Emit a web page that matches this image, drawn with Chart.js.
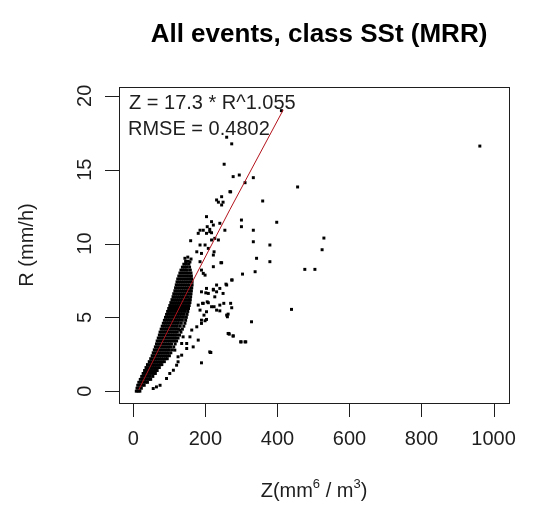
<!DOCTYPE html>
<html>
<head>
<meta charset="utf-8">
<script src="https://cdn.jsdelivr.net/npm/chart.js@4.4.0/dist/chart.umd.min.js"></script>
<style>
html, body { margin: 0; padding: 0; background: #fff; }
#wrap { position: relative; width: 545px; height: 515px; }
</style>
</head>
<body>
<div id="wrap"><canvas id="chart"></canvas></div>
<script>
// axis setup
const xTicks = [0, 200, 400, 600, 800, 1000];
const yTicks = [0, 5, 10, 15, 20];
const xRange = [-40, 1043];
const yRange = [-0.8, 20.6];

// dense core of the cloud, one row of Z readings per R level
const coreR = [0.0, 0.2, 0.4, 0.6, 0.8, 1.0, 1.2, 1.4, 1.6, 1.8, 2.0, 2.2, 2.4, 2.6, 2.8, 3.0,
	3.2, 3.4, 3.6, 3.8, 4.0, 4.2, 4.4, 4.6, 4.8, 5.0, 5.2, 5.4, 5.6, 5.8, 6.0, 6.2, 6.4, 6.6,
	6.8, 7.0, 7.2, 7.4, 7.6, 7.8, 8.0, 8.2, 8.4, 8.6, 8.8];
const coreZ = [
	[8, 13, 18],
	[10, 16, 22],
	[12, 18, 24, 30],
	[15, 21, 27, 33, 39],
	[19, 25, 31, 37, 43, 48],
	[23, 29, 35, 41, 47, 54],
	[27, 33, 39, 45, 51, 57, 61],
	[31, 37, 43, 49, 55, 61, 66],
	[35, 41, 47, 53, 59, 65, 72],
	[39, 45, 51, 57, 63, 69, 75, 79],
	[44, 50, 56, 62, 68, 74, 80, 86],
	[48, 54, 60, 66, 72, 78, 84, 90, 94],
	[52, 58, 64, 70, 76, 82, 88, 94, 100],
	[55, 61, 67, 73, 79, 85, 91, 97, 104],
	[58, 64, 70, 76, 82, 88, 94, 100, 108],
	[61, 67, 73, 79, 85, 91, 97, 103, 112],
	[64, 70, 76, 82, 88, 94, 100, 106, 116],
	[66, 72, 78, 84, 90, 96, 102, 108, 114, 120],
	[69, 75, 81, 87, 93, 99, 105, 111, 117, 124],
	[72, 78, 84, 90, 96, 102, 108, 114, 120, 128],
	[74, 80, 86, 92, 98, 104, 110, 116, 122, 132],
	[77, 83, 89, 95, 101, 107, 113, 119, 125, 136],
	[80, 86, 92, 98, 104, 110, 116, 122, 130, 140],
	[83, 89, 95, 101, 107, 113, 119, 125, 133, 143],
	[86, 92, 98, 104, 110, 116, 122, 128, 136, 145],
	[89, 95, 101, 107, 113, 119, 125, 131, 139, 147],
	[92, 98, 104, 110, 116, 122, 128, 134, 141, 149],
	[95, 101, 107, 113, 119, 125, 131, 137, 144, 151],
	[98, 104, 110, 116, 122, 128, 134, 140, 147, 153],
	[101, 107, 113, 119, 125, 131, 137, 143, 149, 155],
	[104, 110, 116, 122, 128, 134, 140, 146, 152, 157],
	[107, 113, 119, 125, 131, 137, 143, 149, 155, 158],
	[110, 116, 122, 128, 134, 140, 146, 152, 159],
	[112, 118, 124, 130, 136, 142, 148, 154, 160],
	[115, 121, 127, 133, 139, 145, 151, 157, 161],
	[117, 123, 129, 135, 141, 147, 153, 159, 162],
	[119, 125, 131, 137, 143, 149, 155, 163],
	[121, 127, 133, 139, 145, 151, 157, 163],
	[123, 129, 135, 141, 147, 153, 159, 162],
	[126, 132, 138, 144, 150, 156, 161],
	[129, 135, 141, 147, 153, 160],
	[132, 138, 144, 150, 158],
	[136, 142, 148, 156],
	[140, 147, 154],
	[145, 152]
];

// scattered points around and away from the core
const sparseZ = [55, 64, 74, 92, 101, 111, 120, 124, 124, 115, 134, 138, 129, 134, 148, 148,
	157, 162, 166, 176, 180, 189, 189, 212, 214, 180, 194, 208, 185, 203, 217, 240, 231, 263,
	259, 189, 199, 203, 196, 224, 251, 270, 273, 240, 263, 261, 265, 277, 298, 312, 328, 439,
	201, 231, 192, 205, 189, 203, 208, 222, 240, 249, 226, 231, 222, 259, 273, 303, 338, 379,
	342, 379, 245, 222, 224, 222, 236, 217, 203, 194, 212, 240, 222, 217, 203, 254, 300, 300,
	333, 333, 398, 359, 476, 504, 245, 231, 268, 236, 249, 245, 143, 151, 157, 146, 160, 189,
	194, 199, 185, 176, 189, 185, 199, 208, 159, 180, 185, 205, 212, 217, 226, 243, 252, 277,
	294, 333, 310, 270, 273, 259, 411, 456, 529, 524, 962, 266, 277, 299, 310, 215, 274, 257];
const sparseR = [0.18, 0.29, 0.4, 0.86, 1.2, 1.42, 1.76, 1.99, 2.33, 2.78, 2.44, 3.68, 4.14,
	3.23, 2.89, 3.23, 3.68, 4.14, 3.0, 4.36, 3.46, 4.59, 1.92, 2.66, 2.62, 5.83, 5.95, 5.99,
	5.49, 5.38, 5.72, 5.83, 5.49, 3.91, 5.15, 4.81, 4.77, 4.86, 5.15, 5.72, 5.95, 5.95, 5.65,
	5.44, 5.22, 5.04, 3.91, 3.75, 3.34, 3.34, 4.7, 5.54, 6.66, 6.73, 5.95, 6.05, 6.73, 6.96,
	6.62, 6.85, 6.96, 6.62, 6.39, 7.19, 6.9, 7.19, 7.53, 7.93, 8.09, 8.77, 9.0, 9.9, 8.7, 8.43,
	9.44, 9.22, 10.24, 10.24, 10.69, 10.9, 10.8, 11.37, 11.25, 11.48, 11.82, 10.9, 11.59, 11.14,
	10.9, 10.12, 11.44, 12.88, 8.25, 8.25, 13.17, 12.95, 13.51, 12.8, 12.8, 12.61, 9.0, 9.08,
	8.75, 8.68, 8.95, 8.2, 7.98, 7.86, 8.77, 9.44, 9.33, 9.9, 9.9, 9.67, 10.19, 10.69, 10.9,
	11.14, 10.96, 10.73, 10.35, 8.7, 15.37, 14.53, 14.64, 14.46, 14.12, 13.5, 16.75, 17.2,
	19.0, 13.83, 10.37, 9.58, 16.6, 3.86, 3.73, 3.34, 3.34, 2.62, 7.53, 7.25];

// fitted curve
const fitZ = [15, 106, 152, 268, 416];
const fitR = [0.1, 4.6, 6.85, 12.3, 19.05];

const titleText = 'All events, class SSt (MRR)';
const fitLabel = 'Z = 17.3 * R^1.055';
const rmseLabel = 'RMSE = 0.4802';
const yTitle = 'R (mm/h)';

const FONT = '"Liberation Sans", Arial, sans-serif';
const INK = '#1e1e1e';

let points = [];
coreR.forEach((r, i) => {
	coreZ[i].forEach((z) => points.push({x: z, y: r}));
});
sparseZ.forEach((z, i) => points.push({x: z, y: sparseR[i]}));

let fitLine = fitZ.map((z, i) => ({x: z, y: fitR[i]}));

// R-style frame: box, outward ticks, rotated y labels, titles
const rFrame = {
	id: 'rFrame',
	afterDraw: function(chart)
	{
		const ctx = chart.ctx;
		const a = chart.chartArea;
		const x = chart.scales.x;
		const y = chart.scales.y;

		ctx.save();
		ctx.strokeStyle = INK;
		ctx.lineWidth = 1;
		ctx.strokeRect(Math.round(a.left) + 0.5, Math.round(a.top) + 0.5,
			Math.round(a.right - a.left), Math.round(a.bottom - a.top));

		ctx.beginPath();
		xTicks.forEach((v) => {
			let px = Math.round(x.getPixelForValue(v)) + 0.5;
			ctx.moveTo(px, a.bottom);
			ctx.lineTo(px, a.bottom + 14);
		});
		yTicks.forEach((v) => {
			let py = Math.round(y.getPixelForValue(v)) + 0.5;
			ctx.moveTo(a.left, py);
			ctx.lineTo(a.left - 14, py);
		});
		ctx.stroke();

		ctx.fillStyle = INK;
		ctx.font = '20px ' + FONT;
		ctx.textAlign = 'center';
		ctx.textBaseline = 'middle';
		xTicks.forEach((v) => {
			ctx.fillText(String(v), x.getPixelForValue(v), a.bottom + 36);
		});
		yTicks.forEach((v) => {
			ctx.save();
			ctx.translate(a.left - 34, y.getPixelForValue(v));
			ctx.rotate(-Math.PI / 2);
			ctx.fillText(String(v), 0, 0);
			ctx.restore();
		});

		// y title
		ctx.save();
		ctx.translate(27, (a.top + a.bottom) / 2);
		ctx.rotate(-Math.PI / 2);
		ctx.fillText(yTitle, 0, 0);
		ctx.restore();

		// x title with superscripts: Z(mm^6/m^3)
		let parts = [['Z(mm', false], ['6', true], [' / m', false], ['3', true], [')', false]];
		let big = '20px ' + FONT;
		let small = '13px ' + FONT;
		let total = 0;
		parts.forEach((p) => {
			ctx.font = p[1] ? small : big;
			total += ctx.measureText(p[0]).width;
		});
		let cx = (a.left + a.right) / 2 - total / 2;
		ctx.textAlign = 'left';
		ctx.textBaseline = 'alphabetic';
		parts.forEach((p) => {
			ctx.font = p[1] ? small : big;
			ctx.fillText(p[0], cx, p[1] ? 488 : 497);
			cx += ctx.measureText(p[0]).width;
		});

		// fit annotation
		ctx.font = '20px ' + FONT;
		ctx.fillText(fitLabel, a.left + 10, 109);
		ctx.fillText(rmseLabel, a.left + 9, 135);

		// main title
		ctx.font = 'bold 26px ' + FONT;
		ctx.textAlign = 'center';
		ctx.fillStyle = '#000';
		ctx.fillText(titleText, (a.left + a.right) / 2 + 5, 42);
		ctx.restore();
	}
};

new Chart(document.getElementById('chart'), {
	type: 'scatter',
	data: {
		datasets: [
			{
				label: 'fit',
				type: 'line',
				data: fitLine,
				borderColor: '#b3121b',
				borderWidth: 1,
				pointRadius: 0,
				fill: false,
				tension: 0,
				order: 0
			},
			{
				label: 'events',
				data: points,
				pointStyle: 'rect',
				pointRadius: 2.1,
				pointHoverRadius: 2.1,
				backgroundColor: '#000',
				borderWidth: 0,
				order: 1
			}
		]
	},
	options: {
		responsive: true,
		maintainAspectRatio: false,
		animation: false,
		events: [],
		layout: {
			padding: {left: 119, top: 87, right: 36, bottom: 112}
		},
		scales: {
			x: {type: 'linear', min: xRange[0], max: xRange[1], display: false},
			y: {type: 'linear', min: yRange[0], max: yRange[1], display: false}
		},
		plugins: {
			legend: {display: false},
			tooltip: {enabled: false}
		}
	},
	plugins: [rFrame]
});
</script>
</body>
</html>
